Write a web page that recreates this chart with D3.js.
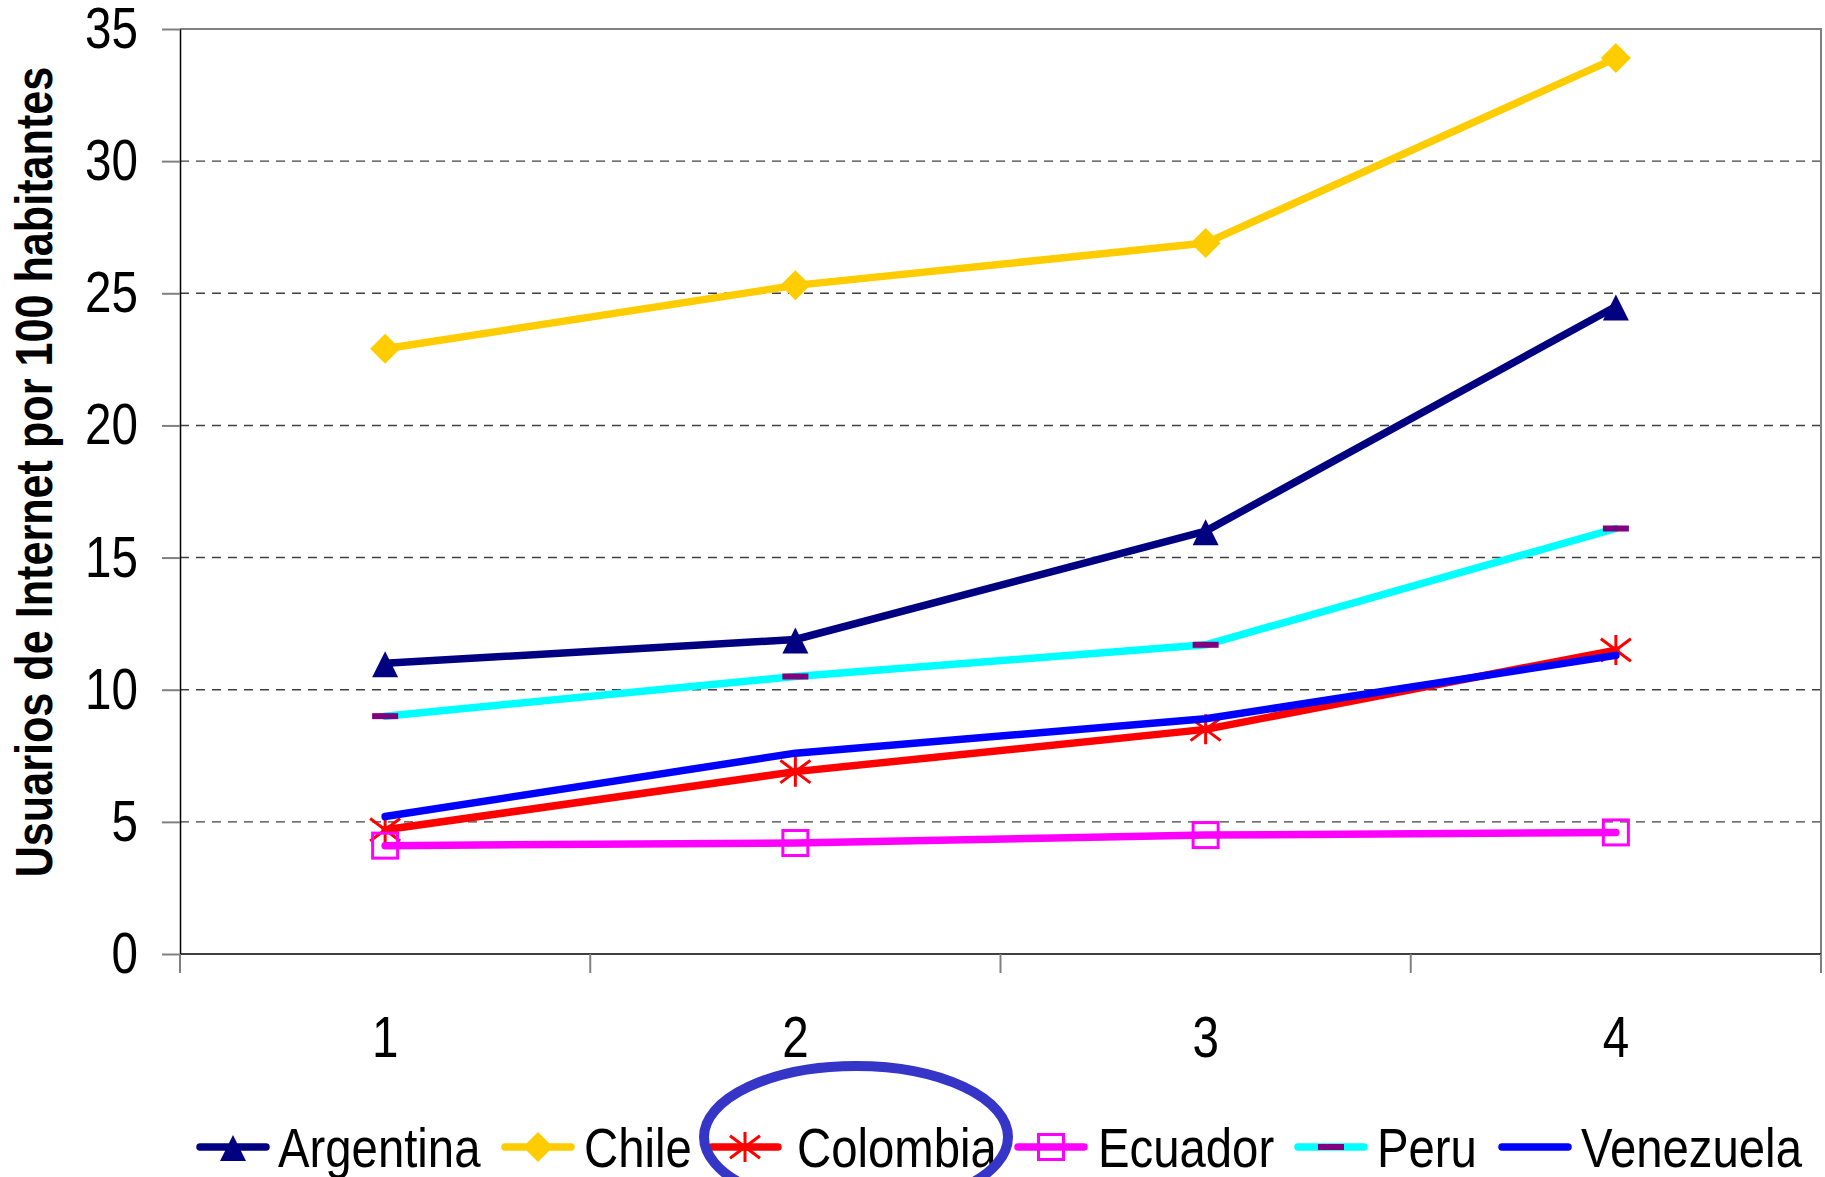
<!DOCTYPE html>
<meta charset="utf-8">
<script src="https://d3js.org/d3.v7.min.js"></script>
<style>
  body { margin: 0; background: #fff; }
  text { font-family: "Liberation Sans", Arial, sans-serif; }
</style>
<div id="chart"></div>
<script>
  // data
  const years = ["1", "2", "3", "4"];
  const argentina = [11.0, 11.9, 16.0, 24.5];
  const chile = [22.9, 25.3, 26.9, 33.9];
  const colombia = [4.7, 6.9, 8.5, 11.5];
  const ecuador = [4.1, 4.2, 4.5, 4.6];
  const peru = [9.0, 10.5, 11.7, 16.1];
  const venezuela = [5.2, 7.6, 8.9, 11.3];
  const yTicks = [0, 5, 10, 15, 20, 25, 30, 35];

  const series = [
    {name: "Argentina", values: argentina, color: "#000080", marker: "triangle"},
    {name: "Chile", values: chile, color: "#FFCC00", marker: "diamond"},
    {name: "Colombia", values: colombia, color: "#FF0000", marker: "star"},
    {name: "Ecuador", values: ecuador, color: "#FF00FF", marker: "square"},
    {name: "Peru", values: peru, color: "#00FFFF", marker: "dash"},
    {name: "Venezuela", values: venezuela, color: "#0000FF", marker: "none"}
  ];

  const W = 1825, H = 1177;
  const margin = {top: 29, right: 4, bottom: 223, left: 180};
  const width = W - margin.left - margin.right,
        height = H - margin.top - margin.bottom;

  const svg = d3.select("#chart").append("svg")
      .attr("width", W).attr("height", H);
  const g = svg.append("g")
      .attr("transform", `translate(${margin.left},${margin.top})`);

  const x = d3.scaleBand().domain(years).range([0, width]);
  const y = d3.scaleLinear().domain([0, 35]).range([height, 0]);

  // squeeze text horizontally to mimic a narrow face
  function narrow(sel, k) {
    sel.each(function() {
      const len = this.getComputedTextLength();
      d3.select(this).attr("textLength", len * k).attr("lengthAdjust", "spacingAndGlyphs");
    });
  }

  // dashed grid
  g.selectAll(".grid").data(yTicks.filter(d => d > 0)).join("line")
      .attr("x1", 0).attr("x2", width)
      .attr("y1", d => y(d)).attr("y2", d => y(d))
      .attr("stroke", "#404040").attr("stroke-width", 1.4)
      .attr("stroke-dasharray", "9,7");

  // plot border (top / right)
  g.append("path")
      .attr("d", `M0,0H${width}V${height}`)
      .attr("fill", "none").attr("stroke", "#808080").attr("stroke-width", 2);

  // y axis
  const yAxis = g.append("g")
      .call(d3.axisLeft(y).tickValues(yTicks).tickSize(18).tickSizeOuter(0).tickPadding(24));
  yAxis.select(".domain").attr("stroke", "#000").attr("stroke-width", 1.5);
  yAxis.selectAll(".tick line").attr("stroke", "#808080").attr("stroke-width", 2);
  yAxis.selectAll("text").attr("font-size", 58).attr("fill", "#000")
      .attr("font-family", "Liberation Sans, Arial, sans-serif")
      .call(narrow, 0.82);

  // x axis: ticks between categories
  const xAxis = g.append("g").attr("transform", `translate(0,${height})`);
  xAxis.append("line").attr("x1", 0).attr("x2", width)
      .attr("stroke", "#000").attr("stroke-width", 1.5);
  xAxis.selectAll(".xt").data(d3.range(years.length + 1)).join("line")
      .attr("x1", i => i * x.step()).attr("x2", i => i * x.step())
      .attr("y1", 0).attr("y2", 19)
      .attr("stroke", "#808080").attr("stroke-width", 2);
  xAxis.selectAll(".xl").data(years).join("text")
      .attr("x", d => x(d) + x.bandwidth() / 2)
      .attr("y", 103)
      .attr("text-anchor", "middle")
      .attr("font-size", 58)
      .text(d => d)
      .call(narrow, 0.82);

  // y axis title
  svg.append("text")
      .attr("transform", `translate(52,${472}) rotate(-90)`)
      .attr("text-anchor", "middle")
      .attr("font-size", 52).attr("font-weight", "bold")
      .text("Usuarios de Internet por 100 habitantes")
      .call(narrow, 0.83);

  const line = d3.line()
      .x((d, i) => x(years[i]) + x.bandwidth() / 2)
      .y(d => y(d));

  function drawMarker(sel, s) {
    if (s.marker === "triangle") {
      sel.append("path").attr("d", "M0,-12L13,14L-13,14Z").attr("fill", s.color);
    } else if (s.marker === "diamond") {
      sel.append("path").attr("d", "M0,-15L15,0L0,15L-15,0Z").attr("fill", s.color);
    } else if (s.marker === "star") {
      const r = 15;
      sel.append("path")
          .attr("d", `M0,${-r}V${r}M${-r},${-r * 0.75}L${r},${r * 0.75}M${-r},${r * 0.75}L${r},${-r * 0.75}`)
          .attr("stroke", s.color).attr("stroke-width", 3).attr("fill", "none");
    } else if (s.marker === "square") {
      sel.append("rect").attr("x", -12.5).attr("y", -12.5).attr("width", 25).attr("height", 25)
          .attr("fill", "none").attr("stroke", s.color).attr("stroke-width", 3);
    } else if (s.marker === "dash") {
      sel.append("rect").attr("x", -13).attr("y", -3).attr("width", 26).attr("height", 6)
          .attr("fill", "#800080");
    }
  }

  series.forEach(s => {
    g.append("path")
        .datum(s.values)
        .attr("d", line)
        .attr("fill", "none")
        .attr("stroke", s.color)
        .attr("stroke-width", 7.5)
        .attr("stroke-linecap", "round")
        .attr("stroke-linejoin", "round");
    s.values.forEach((v, i) => {
      const m = g.append("g")
          .attr("transform", `translate(${x(years[i]) + x.bandwidth() / 2},${y(v)})`);
      drawMarker(m, s);
    });
  });

  // legend
  const legendX = [200, 505, 712, 1018, 1298, 1502];
  const legendTextX = [78, 79, 85, 80, 79, 79];
  const legendY = 1147;
  series.forEach((s, i) => {
    const lg = svg.append("g").attr("transform", `translate(${legendX[i]},${legendY})`);
    lg.append("line").attr("x1", 0).attr("x2", 66)
        .attr("stroke", s.color).attr("stroke-width", 7.5).attr("stroke-linecap", "round");
    const m = lg.append("g").attr("transform", "translate(33,0)");
    drawMarker(m, s);
    lg.append("text").attr("x", legendTextX[i]).attr("y", 20)
        .attr("font-size", 55).text(s.name)
        .call(narrow, 0.86);
  });

  // hand-drawn highlight around "Colombia"
  svg.append("ellipse")
      .attr("cx", 856).attr("cy", 1137).attr("rx", 152).attr("ry", 71)
      .attr("fill", "none").attr("stroke", "#3535C8").attr("stroke-width", 10);
</script>
